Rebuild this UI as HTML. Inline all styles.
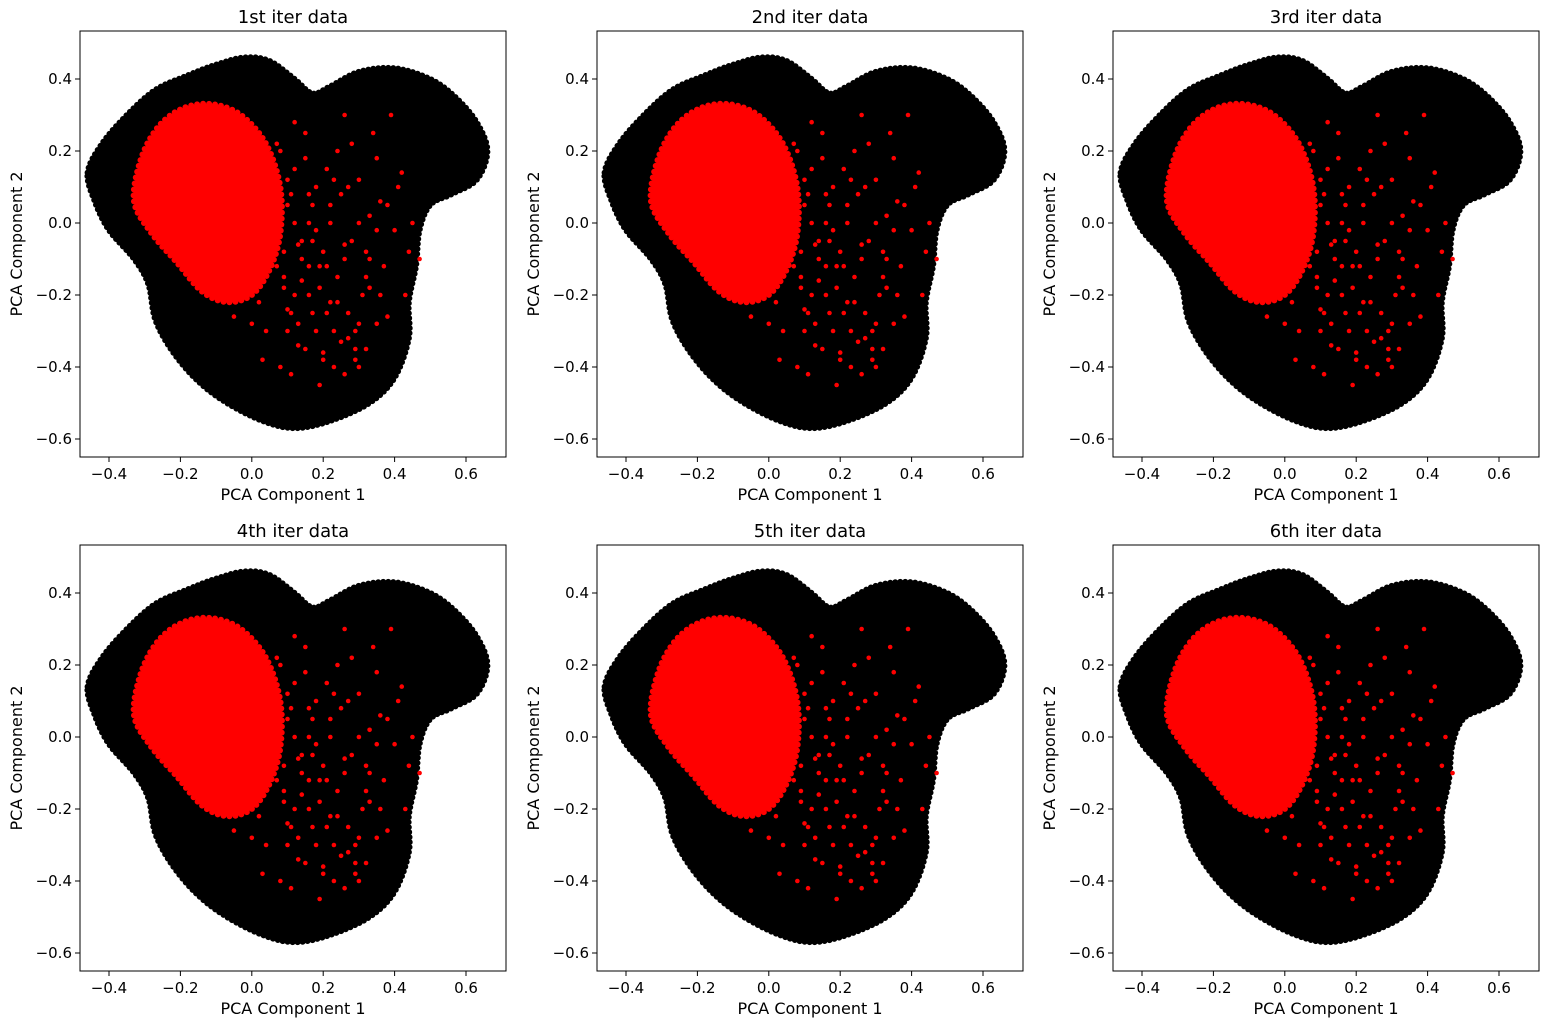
<!DOCTYPE html>
<html><head><meta charset="utf-8"><style>
body{margin:0;background:#fff;width:1550px;height:1026px;overflow:hidden;font-family:"DejaVu Sans","Liberation Sans",sans-serif}
svg text{font-family:"DejaVu Sans","Liberation Sans",sans-serif;fill:#000}
</style></head><body>
<svg id="fig" width="1550" height="1026" xmlns="http://www.w3.org/2000/svg"></svg>
<script>
const titles=["1st iter data","2nd iter data","3rd iter data","4th iter data","5th iter data","6th iter data"];
const xTicks=[-0.4,-0.2,0,0.2,0.4,0.6];
const yTicks=[-0.6,-0.4,-0.2,0,0.2,0.4];
const blackX=[-0.46,-0.42,-0.35,-0.27,-0.18,-0.1,-0.02,0.05,0.12,0.17,0.22,0.3,0.4,0.5,0.57,0.63,0.66,0.63,0.56,0.5,0.47,0.46,0.44,0.44,0.4,0.33,0.22,0.12,0.03,-0.07,-0.15,-0.22,-0.27,-0.29,-0.33,-0.4,-0.44];
const blackY=[0.14,0.22,0.3,0.37,0.41,0.44,0.46,0.45,0.4,0.36,0.38,0.42,0.43,0.4,0.35,0.28,0.2,0.12,0.08,0.05,-0.02,-0.12,-0.22,-0.32,-0.43,-0.5,-0.55,-0.57,-0.55,-0.5,-0.44,-0.36,-0.27,-0.17,-0.1,-0.02,0.06];
const coreX=[-0.33,-0.31,-0.26,-0.19,-0.11,-0.03,0.04,0.08,0.08,0.05,0.0,-0.07,-0.14,-0.21,-0.28];
const coreY=[0.06,0.18,0.27,0.32,0.33,0.3,0.22,0.1,-0.03,-0.13,-0.2,-0.22,-0.19,-0.11,-0.03];
const redX=[0.08,0.12,0.15,0.1,0.18,0.22,0.25,0.3,0.35,0.38,0.42,0.45,0.2,0.14,0.09,0.05,0.11,0.16,0.24,0.28,0.33,0.37,0.4,0.06,0.12,0.18,0.23,0.27,0.31,0.35,0.1,0.15,0.2,0.25,0.3,0.02,0.08,0.13,0.19,0.22,0.26,0.32,0.04,0.09,0.16,0.21,0.28,0.12,0.17,0.24,0.07,0.14,0.19,0.3,0.36,0.41,0.44,0.26,0.34,0.39,0.47,0.43,0.33,0.29,0.21,0.0,-0.05,0.03,0.11,0.17,0.1,0.13,0.16,0.19,0.22,0.26,0.29,0.32,0.35,0.38,0.06,0.09,0.12,0.15,0.18,0.21,0.24,0.27,0.3,0.33,0.07,0.11,0.14,0.17,0.2,0.23,0.26,0.29,0.32,0.36,0.1,0.13,0.16,0.23,0.27];
const redY=[0.2,0.15,0.25,0.05,0.1,0.0,0.08,0.12,0.18,0.05,0.14,0.0,-0.08,-0.1,-0.15,-0.05,-0.25,-0.2,-0.15,-0.05,-0.1,-0.12,-0.02,0.1,0.0,-0.02,-0.3,-0.25,-0.2,-0.28,-0.3,-0.35,-0.38,-0.33,-0.4,-0.22,-0.4,-0.28,-0.45,-0.22,-0.42,-0.35,-0.3,-0.18,-0.12,0.15,0.22,0.28,0.05,0.2,0.22,-0.05,-0.12,-0.28,-0.2,0.1,-0.08,0.3,0.25,0.3,-0.1,-0.2,0.02,-0.35,-0.25,-0.28,-0.26,-0.38,-0.42,-0.05,0.12,-0.06,0.0,-0.18,0.05,-0.1,-0.3,-0.15,-0.02,-0.26,0.02,-0.08,-0.2,0.18,-0.3,-0.12,-0.22,0.1,0.0,-0.18,-0.12,0.08,-0.16,-0.25,-0.36,0.12,-0.06,-0.38,-0.08,0.06,-0.24,-0.34,0.08,-0.4,-0.32];
const panelLeft=[80,597,1113], panelTop=[31,545], W=426, H=426;
const NS="http://www.w3.org/2000/svg", fig=document.getElementById('fig');
function mk(t,a,p){const e=document.createElementNS(NS,t);for(const k in a)e.setAttribute(k,a[k]);(p||fig).appendChild(e);return e;}
const fmt=v=>(v<0?"\u2212":"")+Math.abs(v).toFixed(1);
function smooth(pts){const n=pts.length;let d=`M${pts[0][0]},${pts[0][1]}`;
  for(let i=0;i<n;i++){const p0=pts[(i-1+n)%n],p1=pts[i],p2=pts[(i+1)%n],p3=pts[(i+2)%n];
    d+=` C${p1[0]+(p2[0]-p0[0])/6},${p1[1]+(p2[1]-p0[1])/6} ${p2[0]-(p3[0]-p1[0])/6},${p2[1]-(p3[1]-p1[1])/6} ${p2[0]},${p2[1]}`;}
  return d+'Z';}
titles.forEach((title,i)=>{
  const L=panelLeft[i%3],T=panelTop[Math.floor(i/3)];
  const sx=v=>L+29+(v+0.4)*357, sy=v=>T+48+(0.4-v)*360;
  const g=mk('g',{});
  
  
  const b=mk('path',{d:smooth(blackX.map((x,j)=>[sx(x),sy(blackY[j])])),fill:'#000',stroke:'#000','stroke-width':6,'stroke-dasharray':'0 5','stroke-linecap':'round'},g);
  
  
  const c=mk('path',{d:smooth(coreX.map((x,j)=>[sx(x),sy(coreY[j])])),fill:'#ff0000',stroke:'#ff0000','stroke-width':6,'stroke-dasharray':'0 6','stroke-linecap':'round'},g);
  
  
  redX.forEach((x,j)=>{
    const d=mk('circle',{cx:sx(x),cy:sy(redY[j]),r:2.3,fill:'#ff0000'},g);
    
    
  });
  const fr=mk('rect',{x:L,y:T,width:W,height:H,fill:'none',stroke:'#000','stroke-width':1},g);
  
  
  xTicks.forEach(v=>{
    mk('line',{x1:sx(v),x2:sx(v),y1:T+H,y2:T+H+5,stroke:'#000'},g);
    const t=mk('text',{x:sx(v),y:T+H+22,'text-anchor':'middle','font-size':15},g);t.textContent=fmt(v);
    
    
  });
  yTicks.forEach(v=>{
    mk('line',{x1:L-5,x2:L,y1:sy(v),y2:sy(v),stroke:'#000'},g);
    const t=mk('text',{x:L-8,y:sy(v)+5,'text-anchor':'end','font-size':15},g);t.textContent=fmt(v);
    
    
  });
  const tt=mk('text',{x:L+W/2,y:T-8,'text-anchor':'middle','font-size':18},g);tt.textContent=title;
  
  
  const xl=mk('text',{x:L+W/2,y:T+H+43,'text-anchor':'middle','font-size':16},g);xl.textContent="PCA Component 1";
  
  
  const yl=mk('text',{x:0,y:0,'text-anchor':'middle','font-size':16,transform:`translate(${L-58},${T+H/2}) rotate(-90)`},g);yl.textContent="PCA Component 2";
  
  
});
</script>
</body></html>
